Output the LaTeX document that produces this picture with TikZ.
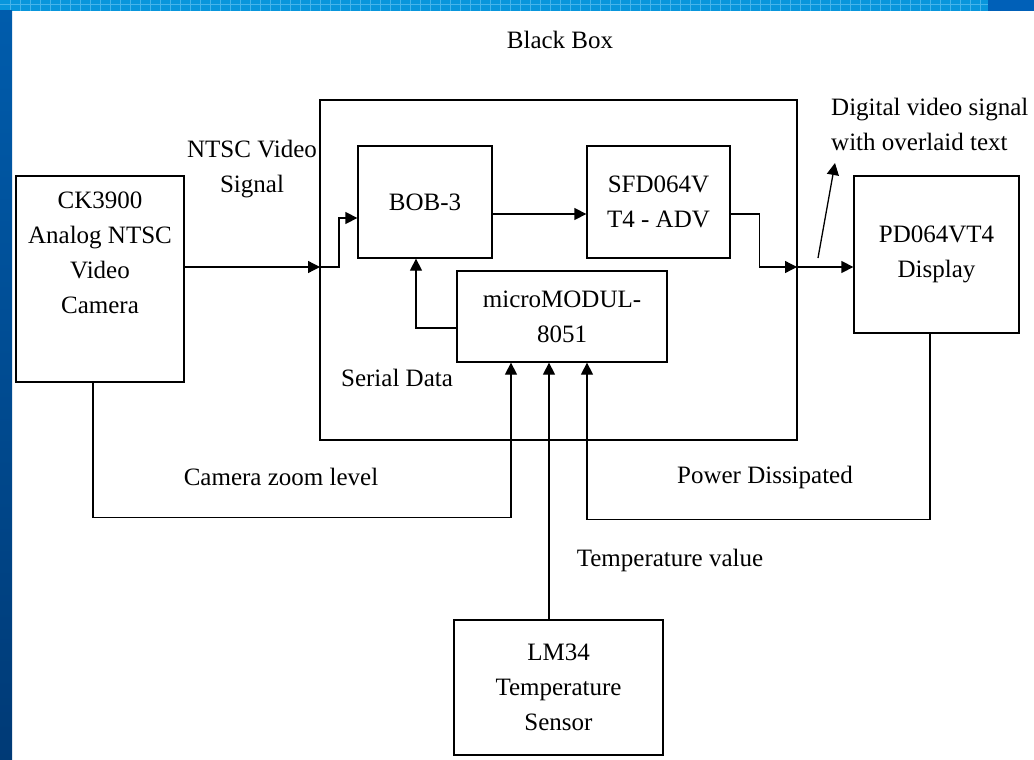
\documentclass[tikz,border=0pt]{standalone}
\usepackage{fontspec}
\setmainfont{Liberation Serif}
\usepackage{tikz}
\usetikzlibrary{arrows.meta,positioning}

\definecolor{bandblue}{RGB}{8,150,220}
\definecolor{bandline}{RGB}{70,180,235}
\definecolor{cornerblue}{RGB}{0,96,184}
\definecolor{sidetop}{RGB}{0,92,172}
\definecolor{sidebot}{RGB}{0,58,118}

\begin{document}
\begin{tikzpicture}[
    x=1pt, y=-1pt,
    block/.style={draw, line width=1.3pt, align=center, inner sep=0pt, font=\fontsize{25}{35}\selectfont},
    txt/.style={align=center, inner sep=0pt, font=\fontsize{25}{35}\selectfont},
    arr/.style={-{Triangle[length=12pt,width=12pt]}, line width=1.3pt},
    gridline/.style={draw=bandline, line width=0.6pt}
  ]
    \useasboundingbox (0,0) rectangle (1034,760);
    % slide background
    \fill[white] (0,0) rectangle (1034,760);
    \fill[bandblue] (0,0) rectangle (988,11);
    \foreach \gx in {10,20,...,980} \draw[gridline] (\gx,0) -- (\gx,11);
    \draw[gridline] (0,4) -- (988,4);
    \fill[cornerblue] (988,0) rectangle (1034,11);
    \shade[top color=sidetop, bottom color=sidebot] (0,11) rectangle (12,760);

    % blocks
    \node[block, minimum width=477pt, minimum height=340pt] (bbox) at (558.5,270) {};
    \node[txt] (bbtitle) at (560,40) {Black Box};
    \node[block, minimum width=168pt, minimum height=206pt] (cam) at (100,279) {};
    \node[txt, anchor=north] (camtxt) at (100,192) {CK3900\\Analog NTSC\\Video\\Camera};
    \node[block, minimum width=134pt, minimum height=112pt] (bob) at (425,202) {BOB-3};
    \node[block, minimum width=143pt, minimum height=112pt] (sfd) at (658.5,202) {SFD064V\\T4 - ADV};
    \node[block, minimum width=210pt, minimum height=91pt] (micro) at (562,316.5) {microMODUL-\\8051};
    \node[block, minimum width=165pt, minimum height=157pt] (disp) at (936.5,254.5) {PD064VT4\\Display};
    \node[block, minimum width=209pt, minimum height=135pt] (lm) at (558.5,687.5) {LM34\\Temperature\\Sensor};

    % labels
    \node[txt] (ntsc) at (252,169) {NTSC Video\\Signal};
    \node[txt] (serial) at (397,378) {Serial Data};
    \node[txt] (zoomlbl) at (281,477) {Camera zoom level};
    \node[txt] (power) at (765,477) {Power Dissipated};
    \node[txt] (templbl) at (670,560) {Temperature value};
    \node[txt, align=left, anchor=west] (digital) at (831,124) {Digital video signal\\with overlaid text};

    % video path
    \coordinate (vin) at (320,267);
    \coordinate (vout) at (797,267);
    \draw[arr] (cam.east |- vin) -- (vin);
    \draw[arr] (vin) -- ++(19,0) |- ([yshift=-16pt]bob.west);
    \draw[arr] ([yshift=-12pt]bob.east) -- ([yshift=-12pt]sfd.west);
    \draw[arr] ([yshift=-12pt]sfd.east) -- ++(29,0) |- (vout);
    \draw[arr] (vout) -- (disp.west |- vout);
    \coordinate (tap) at (818,258);
    \coordinate (tip) at (835,163);
    \draw[arr] (tap) -- (tip);

    % control and sensor lines
    \draw[arr] ([yshift=-11.5pt]micro.west) -| ([xshift=-9pt]bob.south);
    \draw[arr] ([xshift=-7pt]cam.south) -- ++(0,135) -| ([xshift=-51pt]micro.south);
    \draw[arr] ([xshift=-9.5pt]lm.north) -- ([xshift=-13pt]micro.south);
    \draw[arr] ([xshift=-6.5pt]disp.south) -- ++(0,186) -| ([xshift=25pt]micro.south);
  \end{tikzpicture}
\end{document}
